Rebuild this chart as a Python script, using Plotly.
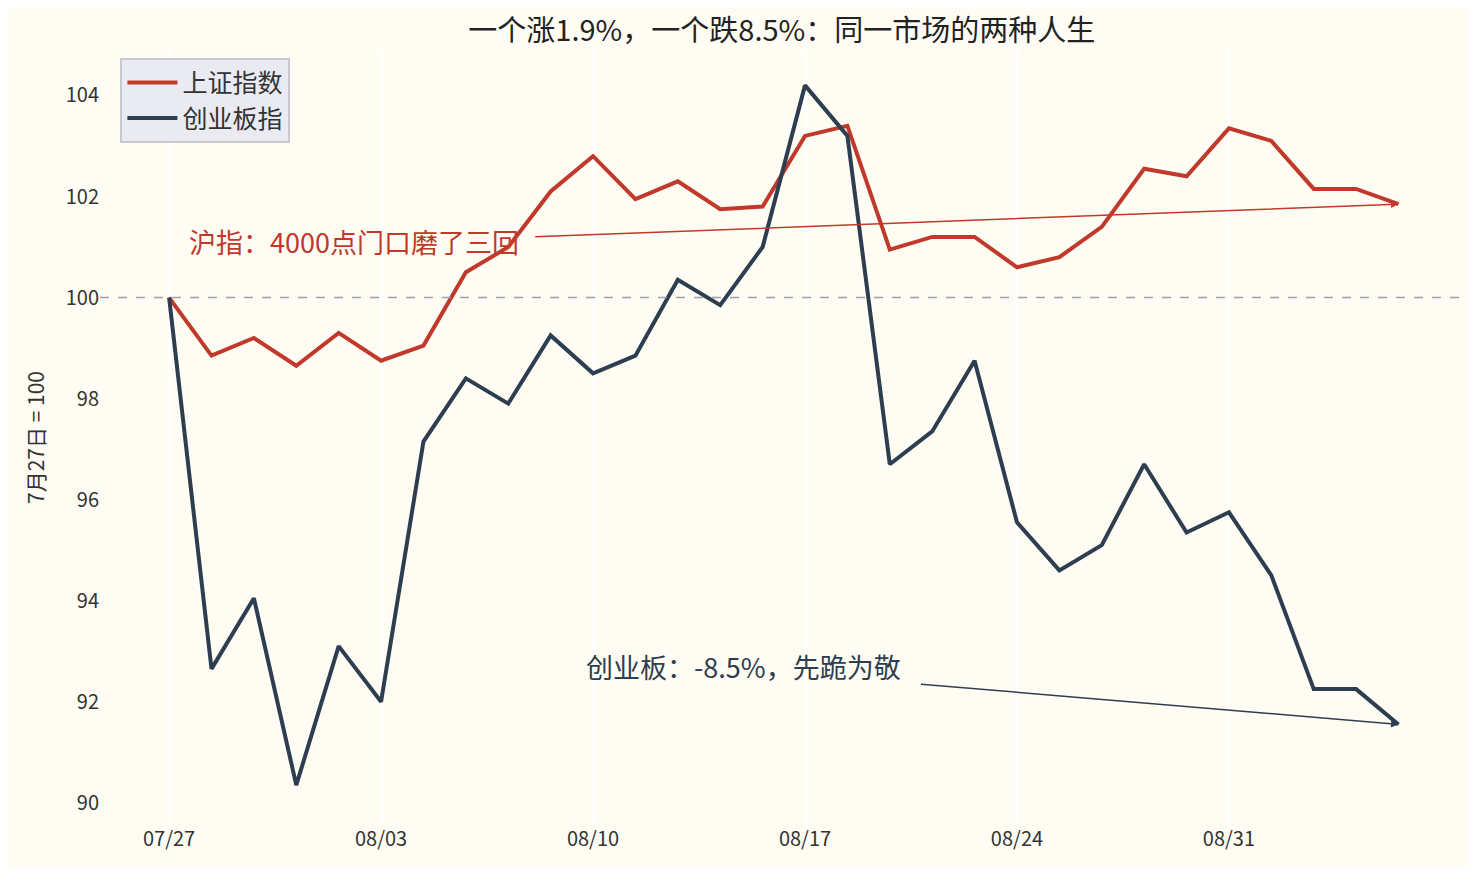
import plotly.graph_objects as go

idx = list(range(30))
tick_pos = [0, 5, 10, 15, 20, 25]
tick_labels = ["07/27", "08/03", "08/10", "08/17", "08/24", "08/31"]
sh = [100, 98.85, 99.2, 98.65, 99.3, 98.75, 99.05, 100.5, 101.0, 102.1, 102.8, 101.95, 102.3, 101.75, 101.8,
      103.2, 103.4, 100.95, 101.2, 101.2, 100.6, 100.8, 101.4, 102.55, 102.4, 103.35, 103.1, 102.15, 102.15, 101.85]
cy = [100, 92.65, 94.05, 90.35, 93.1, 92.0, 97.15, 98.4, 97.9, 99.25, 98.5, 98.85, 100.35, 99.85, 101.0,
      104.2, 103.2, 96.7, 97.35, 98.75, 95.55, 94.6, 95.1, 96.7, 95.35, 95.75, 94.5, 92.25, 92.25, 91.55]
RED, NAVY = "#c0392b", "#2c3e50"
F = "Noto Sans CJK SC"

fig = go.Figure()
fig.add_trace(go.Scatter(x=idx, y=sh, mode="lines", name="上证指数", line=dict(color=RED, width=4)))
fig.add_trace(go.Scatter(x=idx, y=cy, mode="lines", name="创业板指", line=dict(color=NAVY, width=4)))
fig.add_hline(y=100, line=dict(color="#9aa0b0", width=1.5, dash="dash"))
fig.add_annotation(x=29, y=sh[-1], ax=8.6, ay=101.2, axref="x", ayref="y", text="", showarrow=True,
                   arrowhead=2, arrowwidth=1.5, arrowcolor=RED)
fig.add_annotation(x=8.3, y=101.1, text="沪指：4000点门口磨了三回", showarrow=False, xanchor="right",
                   font=dict(color=RED, size=27, family=F))
fig.add_annotation(x=29, y=cy[-1], ax=17.7, ay=92.35, axref="x", ayref="y", text="", showarrow=True,
                   arrowhead=2, arrowwidth=1.5, arrowcolor=NAVY)
fig.add_annotation(x=17.3, y=92.7, text="创业板：-8.5%，先跪为敬", showarrow=False, xanchor="right",
                   font=dict(color=NAVY, size=27, family=F))
fig.update_layout(
    width=1460, height=860, paper_bgcolor="#fffdf3", plot_bgcolor="#fffdf3",
    margin=dict(l=92, r=8, t=42, b=43),
    title=dict(text="一个涨1.9%，一个跌8.5%：同一市场的两种人生", x=0.53, y=0.985,
               font=dict(size=29, family=F, color="#222")),
    font=dict(family=F, size=20, color="#333"),
    legend=dict(x=0.015, y=0.99, bgcolor="#eaeaf2", bordercolor="#c8c8d0", borderwidth=2,
                font=dict(size=25, family=F), itemwidth=50),
    xaxis=dict(range=[-1.63, 30.45], tickvals=tick_pos, ticktext=tick_labels, showgrid=True,
               gridcolor="white", gridwidth=3, zeroline=False, showline=False),
    yaxis=dict(range=[89.56, 104.9], tickvals=[90, 92, 94, 96, 98, 100, 102, 104], showgrid=False,
               zeroline=False, title=dict(text="7月27日 = 100", font=dict(size=21))),
)
fig.write_html("out.html")
